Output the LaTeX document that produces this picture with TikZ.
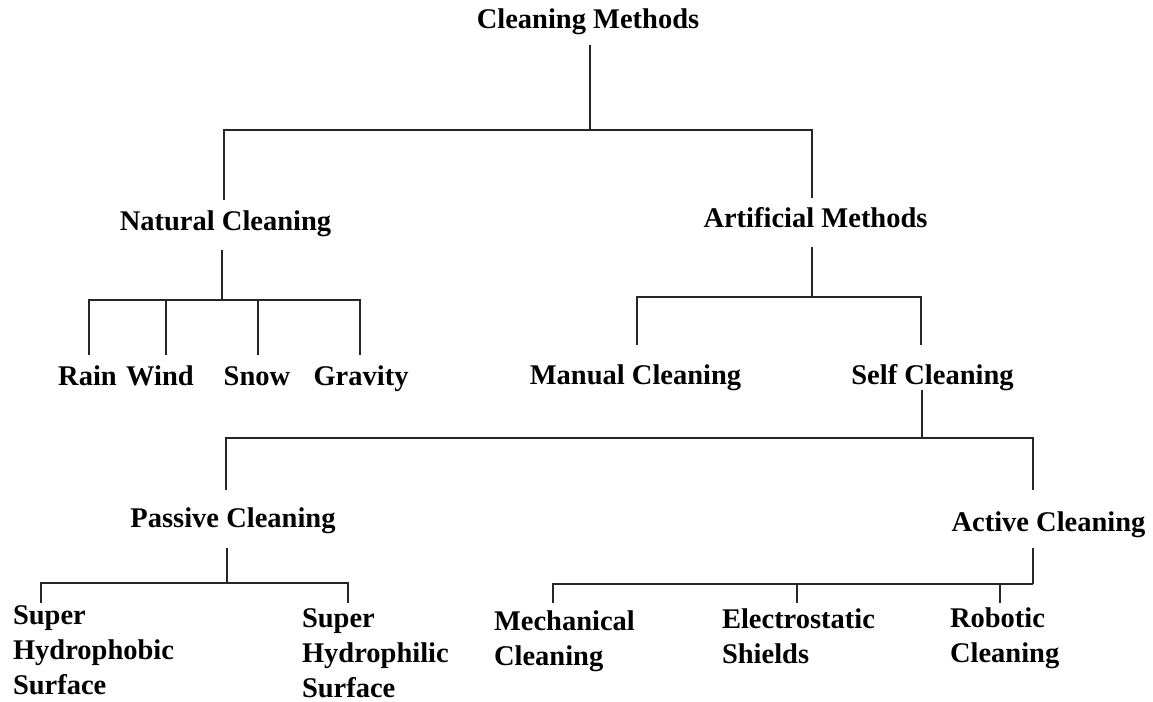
\documentclass[tikz,border=0pt]{standalone}
\usepackage{fontspec}
\setmainfont{Liberation Serif}
\begin{document}
\begin{tikzpicture}[x=1pt,y=-1pt,
  lbl/.style={inner sep=0pt,outer sep=0pt,anchor=base,font=\fontsize{28.5}{35}\selectfont\bfseries},
  mlbl/.style={inner sep=0pt,outer sep=0pt,anchor=base west,font=\fontsize{28.5}{35}\selectfont\bfseries},
  tree/.style={line width=1.8pt,draw=black!85}]
\useasboundingbox[fill=white] (0,0) rectangle (1153,701);
% nodes
\node[lbl] (root) at (588,29) {Cleaning Methods};
\node[lbl] (nat) at (225.5,230) {Natural Cleaning};
\node[lbl] (art) at (815.5,227) {Artificial Methods};
\node[lbl] (rain) at (87.5,385) {Rain};
\node[lbl] (wind) at (160,385) {Wind};
\node[lbl] (snow) at (257,385) {Snow};
\node[lbl] (grav) at (361,385) {Gravity};
\node[lbl] (man) at (635.5,384) {Manual Cleaning};
\node[lbl] (self) at (932.5,384) {Self Cleaning};
\node[lbl] (pas) at (233,527) {Passive Cleaning};
\node[lbl] (act) at (1048.5,531) {Active Cleaning};
\node[mlbl] (hphob) at (13,624) {\begin{tabular}[t]{@{}l@{}}Super\\Hydrophobic\\Surface\end{tabular}};
\node[mlbl] (hphil) at (302,627) {\begin{tabular}[t]{@{}l@{}}Super\\Hydrophilic\\Surface\end{tabular}};
\node[mlbl] (mech) at (494,630) {\begin{tabular}[t]{@{}l@{}}Mechanical\\Cleaning\end{tabular}};
\node[mlbl] (elec) at (722,628) {\begin{tabular}[t]{@{}l@{}}Electrostatic\\Shields\end{tabular}};
\node[mlbl] (robo) at (950,627) {\begin{tabular}[t]{@{}l@{}}Robotic\\Cleaning\end{tabular}};
% connector points
\coordinate (rootout) at (590,45);  \coordinate (rootbus) at (590,130);
\coordinate (natin) at (224,200);   \coordinate (artin) at (812,198);
\coordinate (natout) at (222,250);  \coordinate (natbus) at (222,300);
\coordinate (rainin) at (89,355);   \coordinate (windin) at (166,355);
\coordinate (snowin) at (258,355);  \coordinate (gravin) at (360,355);
\coordinate (artout) at (812,247);  \coordinate (artbus) at (812,297);
\coordinate (manin) at (637,345);   \coordinate (selfin) at (921,345);
\coordinate (selfout) at (922,390); \coordinate (selfbus) at (922,438);
\coordinate (pasin) at (226,490);   \coordinate (actin) at (1033,490);
\coordinate (pasout) at (227,548);  \coordinate (pasbus) at (227,583);
\coordinate (hphobin) at (41,603);  \coordinate (hphilin) at (348,603);
\coordinate (actout) at (1033,548); \coordinate (actbus) at (1033,584);
\coordinate (mechin) at (553,603);  \coordinate (elecin) at (797,603);
\coordinate (roboin) at (1000,603);
% connectors
\draw[tree] (rootout) -- (rootbus);
\draw[tree] (natin) |- (rootbus) -| (artin);
\draw[tree] (natout) -- (natbus);
\draw[tree] (rainin) |- (natbus) -| (gravin);
\draw[tree] (windin) -- (windin |- natbus);
\draw[tree] (snowin) -- (snowin |- natbus);
\draw[tree] (artout) -- (artbus);
\draw[tree] (manin) |- (artbus) -| (selfin);
\draw[tree] (selfout) -- (selfbus);
\draw[tree] (pasin) |- (selfbus) -| (actin);
\draw[tree] (pasout) -- (pasbus);
\draw[tree] (hphobin) |- (pasbus) -| (hphilin);
\draw[tree] (actout) -- (actbus);
\draw[tree] (mechin) |- (actbus);
\draw[tree] (elecin) -- (elecin |- actbus);
\draw[tree] (roboin) -- (roboin |- actbus);
\end{tikzpicture}
\end{document}
